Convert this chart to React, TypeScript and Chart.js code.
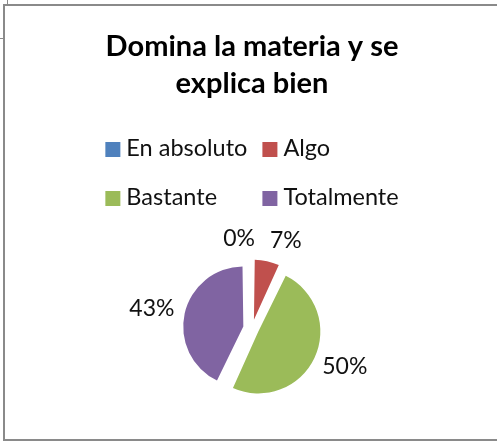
import React, { useEffect, useRef } from 'react';
import { Chart, registerables } from 'chart.js';

Chart.register(...registerables);

// ---- data ----
const titleLines = ['Domina la materia y se', 'explica bien'];
const categories = ['En absoluto', 'Algo', 'Bastante', 'Totalmente'];
const percentages = [0, 7, 50, 43];
const sliceColors = ['#4F81BD', '#C0504D', '#9BBB59', '#8064A2'];

// ---- styling / layout ----
const FONT = 'Lato, "Open Sans", sans-serif';
const W = 497;
const H = 443;
const RADIUS = 55;
const EXPLODE = 14;
const TITLE_SIZE = 29;
const TITLE_LH = 1.3;
const TITLE_PAD_TOP = 27.5;
const CHART_TOP = 230;
const TITLE_PAD_BOTTOM = CHART_TOP - TITLE_PAD_TOP - titleLines.length * TITLE_SIZE * TITLE_LH;
const LEGEND_FIRST_BASELINE = 156;
const LEGEND_SIZE = 23.5;
const LEGEND_ROW_H = 49;
const LEGEND_BOX = 15;
const LEGEND_BOX_GAP = 6;
const LEGEND_COL_GAP = 15;
const LEGEND_COLS = 2;
const LABEL_SIZE = 23;
const LABEL_GAP = 11;
const LABEL_H = 20;
const LABEL_SEP = 15;
const TEXT_COLOR = '#111';

const total = percentages.reduce((a, b) => a + b, 0);

const gridLegend = {
  id: 'gridLegend',
  afterDraw(chart: any) {
    const ctx = chart.ctx;
    const tb = chart.titleBlock;
    if (!tb) return;
    const firstBaseline = tb.top + LEGEND_FIRST_BASELINE;
    ctx.save();
    ctx.font = `${LEGEND_SIZE}px ${FONT}`;
    const colWidths: number[] = [];
    for (let c = 0; c < LEGEND_COLS; c++) {
      let m = 0;
      for (let i = c; i < categories.length; i += LEGEND_COLS) {
        m = Math.max(m, ctx.measureText(categories[i]).width);
      }
      colWidths.push(LEGEND_BOX + LEGEND_BOX_GAP + m);
    }
    const totalW = colWidths.reduce((a, b) => a + b, 0) + LEGEND_COL_GAP * (LEGEND_COLS - 1);
    const cx = (chart.chartArea.left + chart.chartArea.right) / 2;
    const startX = cx - totalW / 2;
    ctx.textAlign = 'left';
    ctx.textBaseline = 'alphabetic';
    categories.forEach((label, i) => {
      const col = i % LEGEND_COLS;
      const row = Math.floor(i / LEGEND_COLS);
      let x = startX;
      for (let c = 0; c < col; c++) x += colWidths[c] + LEGEND_COL_GAP;
      const base = firstBaseline + row * LEGEND_ROW_H;
      ctx.fillStyle = sliceColors[i];
      ctx.fillRect(x, base - LEGEND_BOX + 1, LEGEND_BOX, LEGEND_BOX);
      ctx.fillStyle = TEXT_COLOR;
      ctx.fillText(label, x + LEGEND_BOX + LEGEND_BOX_GAP, base);
    });
    ctx.restore();
  },
};

const pctLabels = {
  id: 'pctLabels',
  afterDatasetsDraw(chart: any) {
    const meta = chart.getDatasetMeta(0);
    const ctx = chart.ctx;
    ctx.save();
    ctx.font = `${LABEL_SIZE}px ${FONT}`;
    const boxes = meta.data.map((el: any, i: number) => {
      const p = el.getProps(['x', 'y', 'startAngle', 'endAngle', 'outerRadius'], true);
      const mid = (p.startAngle + p.endAngle) / 2;
      const dx = Math.cos(mid);
      const dy = Math.sin(mid);
      const text = `${percentages[i]}%`;
      const w = ctx.measureText(text).width;
      const d = p.outerRadius + EXPLODE + LABEL_GAP;
      return { text, w, cx: p.x + dx * d + (dx * w) / 2, cy: p.y + dy * d + (dy * LABEL_H) / 2 };
    });
    for (let iter = 0; iter < 5; iter++) {
      for (let a = 0; a < boxes.length; a++) {
        for (let b = a + 1; b < boxes.length; b++) {
          const A = boxes[a];
          const B = boxes[b];
          if (Math.abs(A.cy - B.cy) >= LABEL_H) continue;
          const need = (A.w + B.w) / 2 + LABEL_SEP;
          const dist = Math.abs(A.cx - B.cx);
          if (dist < need) {
            const push = (need - dist) / 2;
            const [L, R] = A.cx <= B.cx ? [A, B] : [B, A];
            L.cx -= push;
            R.cx += push;
          }
        }
      }
    }
    ctx.fillStyle = TEXT_COLOR;
    ctx.textAlign = 'center';
    ctx.textBaseline = 'middle';
    boxes.forEach((b: any) => ctx.fillText(b.text, b.cx, b.cy));
    ctx.restore();
  },
};

export default function App() {
  const canvasRef = useRef<HTMLCanvasElement | null>(null);

  useEffect(() => {
    if (!canvasRef.current) return;
    const chart = new Chart(canvasRef.current, {
      type: 'pie',
      data: {
        labels: categories,
        datasets: [
          {
            data: percentages,
            backgroundColor: sliceColors,
            borderWidth: 0,
            radius: RADIUS,
            offset: (c: any) => {
              const v = percentages[c.dataIndex] || 0;
              const circ = (v / total) * Math.PI * 2;
              const fix = 1 - Math.sin(Math.min(Math.PI, circ));
              return (EXPLODE * 4) / (1 + fix);
            },
          } as any,
        ],
      },
      options: {
        responsive: false,
        animation: false,
        devicePixelRatio: 1,
        layout: { padding: { top: 0, bottom: 16, left: 10, right: 3 } },
        plugins: {
          legend: { display: false },
          tooltip: { enabled: false },
          title: {
            display: true,
            text: titleLines,
            color: '#000',
            font: { family: FONT, size: TITLE_SIZE, weight: 'bold', lineHeight: TITLE_LH },
            padding: { top: TITLE_PAD_TOP, bottom: TITLE_PAD_BOTTOM },
          },
        },
      },
      plugins: [gridLegend, pctLabels],
    });
    return () => chart.destroy();
  }, []);

  const gray = '#8a8a8a';
  return (
    <div style={{ position: 'fixed', left: 0, top: 0, width: W, height: H, background: '#fff', overflow: 'hidden' }}>
      <div
        style={{
          position: 'absolute',
          left: 3,
          top: 4,
          width: W + 10,
          height: 437,
          boxSizing: 'border-box',
          borderTop: `2px solid ${gray}`,
          borderLeft: `2px solid ${gray}`,
          borderBottom: `2px solid ${gray}`,
        }}
      />
      <div style={{ position: 'absolute', left: 7, top: 0, width: 1, height: 4, background: gray }} />
      <div style={{ position: 'absolute', left: 0, top: 38, width: 3, height: 1, background: gray }} />
      <canvas ref={canvasRef} width={W} height={H} style={{ position: 'absolute', left: 0, top: 0, width: W, height: H }} />
    </div>
  );
}
